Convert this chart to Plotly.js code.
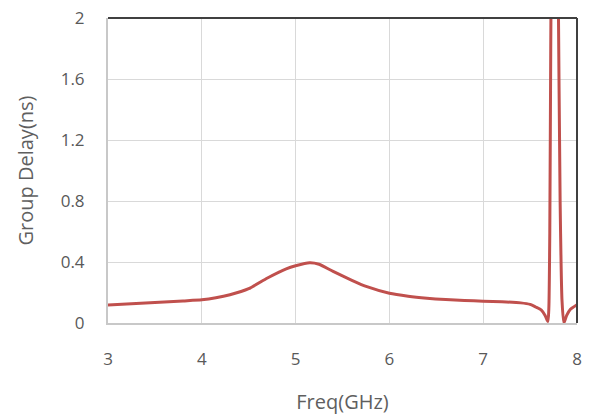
<!DOCTYPE html>
<html><head><meta charset="utf-8">
<script src="https://cdn.plot.ly/plotly-3.0.1.min.js"></script>
<style>html,body{margin:0;padding:0;background:#fff}#c{width:591px;height:416px}</style>
</head><body><div id="c"></div>
<script>
const freq = [3.0,3.2,3.4,3.6,3.8,4.0,4.15,4.3,4.5,4.7,4.9,5.0,5.15,5.25,5.4,5.6,5.76,6.0,6.2,6.4,6.6,6.8,7.0,7.2,7.4,7.5,7.56,7.62,7.66,7.69,7.70,7.71,7.72,7.74,7.77,7.80,7.82,7.84,7.86,7.89,7.93,8.0];
const delay = [0.118,0.124,0.131,0.138,0.145,0.152,0.165,0.185,0.225,0.295,0.355,0.375,0.395,0.385,0.338,0.28,0.238,0.195,0.176,0.163,0.154,0.148,0.143,0.139,0.132,0.122,0.105,0.085,0.05,0.01,0.1,0.6,1.8,3.5,4.2,2.2,0.8,0.15,0.0,0.05,0.09,0.12];
const xTicks = [3,4,5,6,7,8];
const yTicks = [0,0.4,0.8,1.2,1.6,2];
const yTickText = ['0','0.4','0.8','1.2','1.6','2'];

const font = {family:'Open Sans, sans-serif', size:17, color:'#595959'};
const tfont = {family:'Open Sans, sans-serif', size:20, color:'#5f5f5f'};
Plotly.newPlot('c', [{
  x: freq, y: delay, type:'scatter', mode:'lines',
  line:{color:'#c0504d', width:3, shape:'spline', smoothing:0.6},
  hoverinfo:'none'
}], {
  width:591, height:416,
  margin:{l:108, r:14, t:18, b:93},
  paper_bgcolor:'#fff', plot_bgcolor:'#fff',
  showlegend:false,
  font: font,
  xaxis:{range:[3,8], tickvals:xTicks, ticktext:xTicks.map(String), showgrid:true, gridcolor:'#d9d9d9', gridwidth:1,
    showline:true, linecolor:'#c8c8c8', linewidth:2, zeroline:false,
    ticks:'outside', ticklen:20, tickcolor:'rgba(0,0,0,0)', tickfont:font,
    title:{text:'Freq(GHz)', font:tfont, standoff:26}},
  yaxis:{range:[0,2], tickvals:yTicks, ticktext:yTickText, showgrid:true, gridcolor:'#d9d9d9', gridwidth:1,
    showline:true, linecolor:'#c8c8c8', linewidth:2, zeroline:false,
    ticks:'outside', ticklen:18, tickcolor:'rgba(0,0,0,0)', tickfont:font,
    title:{text:'Group Delay(ns)', font:tfont, standoff:22}},
  shapes:[
    {type:'line', xref:'paper', yref:'paper', x0:0, x1:1, y0:1, y1:1, line:{color:'#404040', width:2}},
    {type:'line', xref:'paper', yref:'paper', x0:1, x1:1, y0:0, y1:1, line:{color:'#404040', width:2}}
  ]
}, {staticPlot:true});
</script></body></html>
